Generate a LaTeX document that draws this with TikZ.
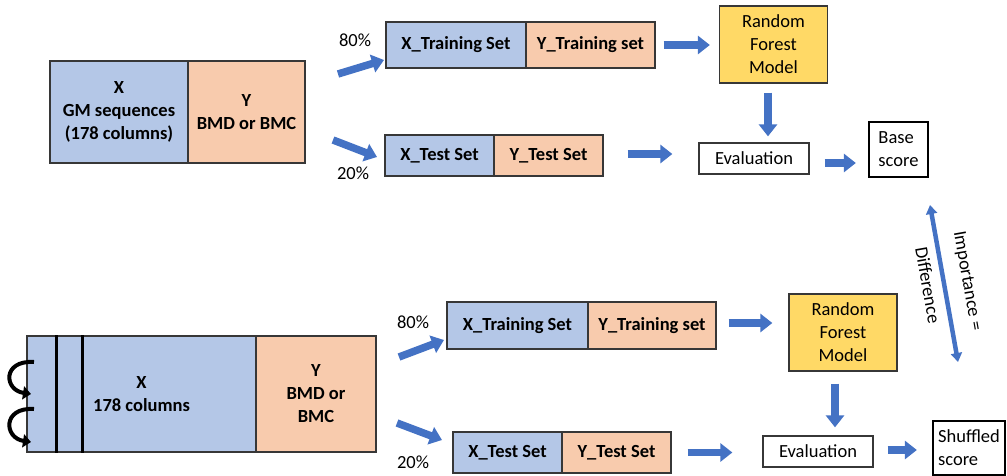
\documentclass[tikz,border=0pt]{standalone}
\usepackage{fontspec}
\setmainfont{Carlito}
\usetikzlibrary{arrows.meta}
\definecolor{xblue}{RGB}{180, 199, 231}
\definecolor{ypeach}{RGB}{248, 203, 173}
\definecolor{rfyellow}{RGB}{255, 217, 102}
\definecolor{arrblue}{RGB}{68, 114, 196}
\definecolor{edge}{RGB}{55, 55, 55}
\newcommand{\dfont}{\fontsize{18.5}{23}\selectfont}

\tikzset{
  box/.style={draw=edge, line width=1.3pt, inner sep=0pt, align=center, font=\dfont},
  xbox/.style={box, fill=xblue, font=\dfont\bfseries},
  ybox/.style={box, fill=ypeach, font=\dfont\bfseries},
  rfbox/.style={box, fill=rfyellow, minimum width=108, minimum height=77},
  evbox/.style={box, fill=white, minimum width=110, minimum height=31},
  scorebox/.style={box, draw=black, line width=2.3pt, fill=white, align=left},
  pct/.style={inner sep=0pt, font=\dfont},
  barrow/.style={draw=arrblue, line width=7.5pt, -{Triangle[length=12pt, width=18pt]}},
  dblarrow/.style={draw=arrblue, line width=4.5pt,
    {Triangle[length=9pt, width=11pt]}-{Triangle[length=9pt, width=11pt]}},
  curl/.style={draw=black, line width=4pt, -{Triangle[length=8pt, width=13pt]}},
  colline/.style={draw=black, line width=2.5pt}
}

\begin{document}
\begin{tikzpicture}[x=1pt, y=-1pt]
  \useasboundingbox (0,0) rectangle (1007,476);

  % baseline model
  \node[xbox, minimum width=138, minimum height=102] (xall) at (119,112) {X\\GM sequences\\(178 columns)};
  \node[ybox, minimum width=117, minimum height=102] (yall) at (246.5,112) {Y\\BMD or BMC};

  \node[xbox, minimum width=140, minimum height=46] (xtr) at (456,45) {X\_Training Set};
  \node[ybox, minimum width=129, minimum height=46] (ytr) at (590.5,45) {Y\_Training set};
  \node[xbox, minimum width=109, minimum height=41] (xte) at (439.5,155.5) {X\_Test Set};
  \node[ybox, minimum width=109, minimum height=41] (yte) at (548.5,155.5) {Y\_Test Set};

  \node[rfbox] (rf) at (773.5,44.5) {Random\\Forest\\Model};
  \node[evbox] (ev) at (754,158.5) {Evaluation};
  \node[scorebox, minimum width=59, minimum height=55] (base) at (898.5,149.5) {Base\\score};

  \node[pct] (p80) at (355,40) {80\%};
  \node[pct] (p20) at (353,173) {20\%};

  \coordinate (s80) at (338,74);
  \coordinate (e80) at (384,60);
  \coordinate (s20) at (333,140);
  \coordinate (e20) at (377,157);
  \draw[barrow] (s80) -- (e80);
  \draw[barrow] (s20) -- (e20);

  \draw[barrow, shorten <=8pt, shorten >=9pt] (ytr.east) -- (ytr.east -| rf.west);
  \draw[barrow, shorten <=9pt, shorten >=6pt] ([xshift=-5.5pt]rf.south) -- ([xshift=-5.5pt]rf.south |- ev.north);
  \draw[barrow, shorten <=24pt, shorten >=26pt] ([yshift=1.5pt]yte.east) -- ([yshift=1.5pt]yte.east -| ev.west);
  \draw[barrow, shorten <=15pt, shorten >=12pt] ([yshift=-4.5pt]ev.east) -- ([yshift=-4.5pt]ev.east -| base.west);

  % shuffled model
  \node[xbox, minimum width=229, minimum height=116] (xall2) at (141.5,394) {X\\178 columns};
  \node[ybox, minimum width=120, minimum height=116] (yall2) at (316,394) {Y\\BMD or\\BMC};
  \draw[colline] ([xshift=30pt]xall2.north west) -- ([xshift=30pt]xall2.south west);
  \draw[colline] ([xshift=56pt]xall2.north west) -- ([xshift=56pt]xall2.south west);

  \coordinate (c1a) at (34,362);
  \coordinate (c1b) at (31,394);
  \coordinate (c2a) at (34,409);
  \coordinate (c2b) at (31,442);
  \draw[curl] (c1a) .. controls (2,360) and (4,390) .. (c1b);
  \draw[curl] (c2a) .. controls (2,407) and (4,438) .. (c2b);

  \node[xbox, minimum width=141, minimum height=47] (xtr2) at (517.5,325.5) {X\_Training Set};
  \node[ybox, minimum width=128, minimum height=47] (ytr2) at (652,325.5) {Y\_Training set};
  \node[xbox, minimum width=109, minimum height=41] (xte2) at (507.5,452.5) {X\_Test Set};
  \node[ybox, minimum width=109, minimum height=41] (yte2) at (616.5,452.5) {Y\_Test Set};

  \node[rfbox] (rf2) at (843,332.5) {Random\\Forest\\Model};
  \node[evbox] (ev2) at (818,451.5) {Evaluation};
  \node[scorebox, minimum width=72, minimum height=54] (shuf) at (969,448) {Shuffled\\score};

  \node[pct] (q80) at (413,322) {80\%};
  \node[pct] (q20) at (413,462) {20\%};

  \coordinate (t80) at (399,357);
  \coordinate (f80) at (444,340);
  \coordinate (t20) at (397,423);
  \coordinate (f20) at (442,440);
  \draw[barrow] (t80) -- (f80);
  \draw[barrow] (t20) -- (f20);

  \draw[barrow, shorten <=12pt, shorten >=16pt] ([yshift=2.5pt]ytr2.east) -- ([yshift=2.5pt]ytr2.east -| rf2.west);
  \draw[barrow, shorten <=12pt, shorten >=8pt] ([xshift=-8pt]rf2.south) -- ([xshift=-8pt]rf2.south |- ev2.north);
  \draw[barrow, shorten <=16pt, shorten >=30pt] (yte2.east) -- (yte2.east -| ev2.west);
  \draw[barrow, shorten <=14pt, shorten >=15pt] ([yshift=1.5pt]ev2.east) -- ([yshift=1.5pt]ev2.east -| shuf.west);

  % importance
  \coordinate (imptop) at (930,205);
  \coordinate (impbot) at (958,362);
  \draw[dblarrow] (imptop) -- (impbot);
  \node[pct, rotate=-80] (impl) at (967,281) {Importance =};
  \node[pct, rotate=-80] (diffl) at (928,285) {Difference};
\end{tikzpicture}
\end{document}
